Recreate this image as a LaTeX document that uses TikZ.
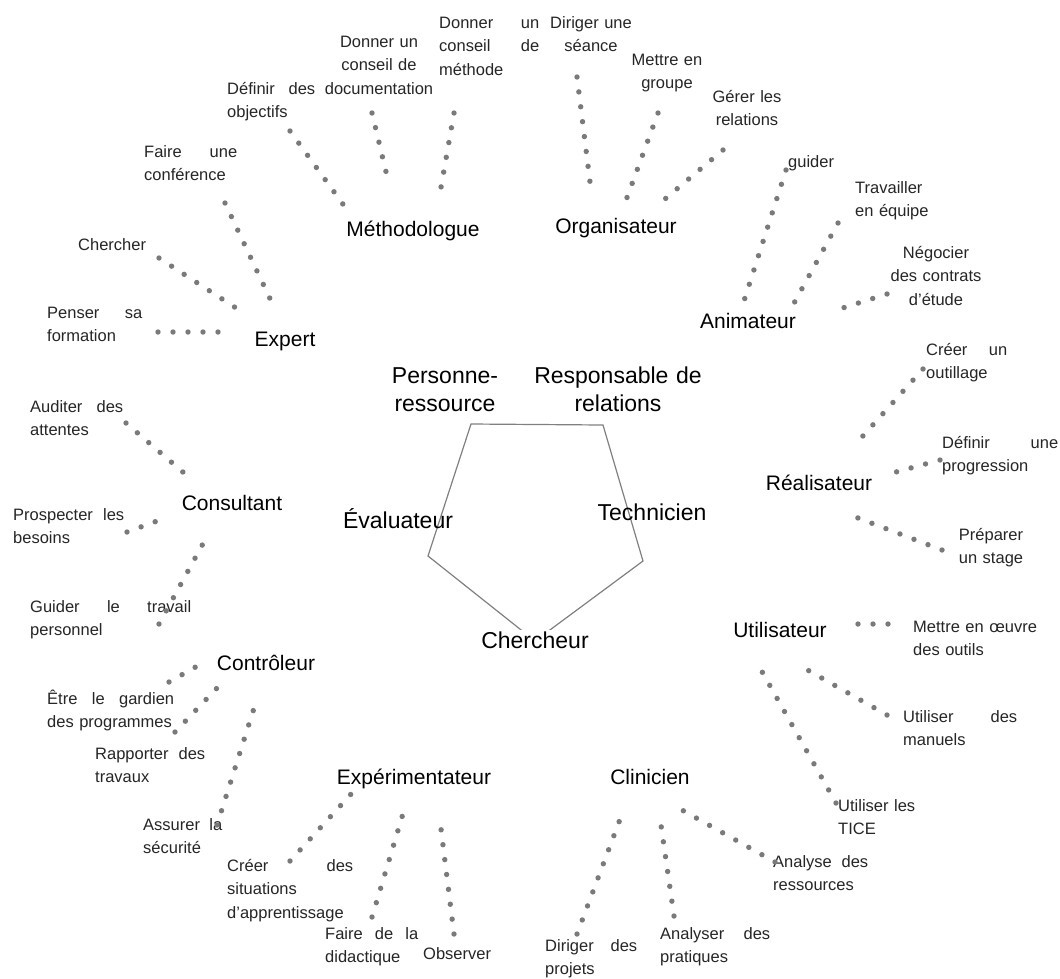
\documentclass[tikz,border=0pt]{standalone}
\usepackage{fontspec}
\setmainfont{Liberation Sans}
\usetikzlibrary{calc}
\begin{document}
\begin{tikzpicture}[x=1pt,y=-1pt,
    leaf/.style={inner sep=0pt,font=\fontsize{16.5}{23.5}\selectfont,text=black!85,anchor=base west,align=left},
    leafc/.style={leaf,anchor=base,align=center},
    role/.style={inner sep=0pt,font=\fontsize{21}{25}\selectfont,anchor=base},
    centre/.style={inner sep=1pt,font=\fontsize{23}{28}\selectfont,anchor=base,align=center},
    dotline/.style={draw=black!52,line width=5.4pt,line cap=round,dash pattern=on 0pt off 15pt}]
  \useasboundingbox[fill=white] (0,0) rectangle (1060,978);

  % pentagone central
  \draw[black!50,line width=1.2pt] (471,424) -- (603,425) -- (643,561) -- (535,641) -- (428,556) -- cycle;
  \node[centre,text width=130pt] (persres) at (445,383) {Personne-\\ressource};
  \node[centre,text width=180pt] (resprel) at (618,383) {Responsable de\\relations};
  \node[centre] (evalu) at (398,528) {Évaluateur};
  \node[centre] (techn) at (652,520) {Technicien};
  \node[centre,fill=white] (cherch) at (535,648) {Chercheur};

  % roles
  \node[role] (methodo) at (413,236) {Méthodologue};
  \node[role] (organis) at (616,233) {Organisateur};
  \node[role] (animat) at (748,328) {Animateur};
  \node[role] (expert) at (285,346) {Expert};
  \node[role] (consult) at (232,510) {Consultant};
  \node[role] (control) at (266,670) {Contrôleur};
  \node[role] (experim) at (414,784) {Expérimentateur};
  \node[role] (clinic) at (650,784) {Clinicien};
  \node[role] (utilis) at (780,637) {Utilisateur};
  \node[role] (realis) at (819,490) {Réalisateur};

  % taches
  \node[leaf,text width=88pt] (defobj) at (227,94) {Définir\hfill des\\objectifs};
  \node[leafc,text width=120pt] (docu) at (379,47) {Donner un\\conseil de\\documentation};
  \node[leaf,text width=100pt] (methode) at (439,28) {Donner\hfill un\\conseil\hfill de\\méthode};
  \node[leafc,text width=100pt] (dirseance) at (591,28) {Diriger une\\séance};
  \node[leafc,text width=90pt] (metgroupe) at (667,65) {Mettre en\\groupe};
  \node[leafc,text width=90pt] (gerrel) at (747,102) {Gérer les\\relations};
  \node[leaf] (guider) at (788,167) {guider};
  \node[leaf,text width=80pt] (travequipe) at (855,193) {Travailler\\en équipe};
  \node[leafc,text width=110pt] (negocier) at (936,258) {Négocier\\des contrats\\d'étude};
  \node[leaf,text width=93pt] (faireconf) at (144,157) {Faire\hfill une\\conférence};
  \node[leaf] (chercher) at (78,250) {Chercher};
  \node[leaf,text width=95pt] (pensersa) at (47,318) {Penser\hfill sa\\formation};
  \node[leaf,text width=93pt] (auditer) at (30,412) {Auditer\hfill des\\attentes};
  \node[leaf,text width=111pt] (prospecter) at (13,520) {Prospecter\hfill les\\besoins};
  \node[leaf,text width=161pt] (guidertrav) at (30,612) {Guider\hfill le\hfill travail\\personnel};
  \node[leaf,text width=127pt] (gardien) at (47,704) {Être\hfill le\hfill gardien\\des programmes};
  \node[leaf,text width=110pt] (rapporter) at (95,759) {Rapporter\hfill des\\travaux};
  \node[leaf,text width=79pt] (assurer) at (143,830) {Assurer\hfill la\\sécurité};
  \node[leaf,text width=126pt] (creersit) at (227,871) {Créer\hfill des\\situations\\d'apprentissage};
  \node[leaf,text width=93pt] (didactique) at (325,939) {Faire\hfill de\hfill la\\didactique};
  \node[leaf] (observer) at (423,959) {Observer};
  \node[leaf,text width=92pt] (dirprojets) at (545,951) {Diriger\hfill des\\projets};
  \node[leaf,text width=110pt] (analpratiques) at (660,939) {Analyser\hfill des\\pratiques};
  \node[leaf,text width=95pt] (analress) at (773,867) {Analyse\hfill des\\ressources};
  \node[leaf,text width=90pt] (tice) at (838,811) {Utiliser les\\TICE};
  \node[leaf,text width=114pt] (manuels) at (903,722) {Utiliser\hfill des\\manuels};
  \node[leaf,text width=130pt] (oeuvre) at (913,632) {Mettre en œuvre\\des outils};
  \node[leafc,text width=90pt] (preparer) at (991,540) {Préparer\\un stage};
  \node[leaf,text width=116pt] (progression) at (942,448) {Définir\hfill une\\progression};
  \node[leaf,text width=81pt] (outillage) at (926,355) {Créer\hfill un\\outillage};

  % liens en pointilles
  \draw[dotline] ($(defobj.base west)+(63,37)$) -- ($(methodo.base)+(-68,-29)$);
  \draw[dotline] ($(docu.base)+(-7,66)$) -- ($(methodo.base)+(-26,-60)$);
  \draw[dotline] ($(methode.base west)+(15,85)$) -- ($(methodo.base)+(27,-43)$);
  \draw[dotline] ($(dirseance.base)+(-14,49)$) -- ($(organis.base)+(-25,-43)$);
  \draw[dotline] ($(metgroupe.base)+(-9,48)$) -- ($(organis.base)+(9,-30)$);
  \draw[dotline] ($(gerrel.base)+(-24,48)$) -- ($(organis.base)+(49,-34)$);
  \draw[dotline] ($(guider.base west)+(-2,3)$) -- ($(animat.base)+(-5,-24)$);
  \draw[dotline] ($(travequipe.base west)+(-17,30)$) -- ($(animat.base)+(45,-23)$);
  \draw[dotline] ($(negocier.base)+(-49,36)$) -- ($(animat.base)+(82,-16)$);
  \draw[dotline] ($(faireconf.base west)+(81,46)$) -- ($(expert.base)+(-12,-41)$);
  \draw[dotline] ($(chercher.base west)+(81,8)$) -- ($(expert.base)+(-49,-38)$);
  \draw[dotline] ($(pensersa.base west)+(111,14)$) -- ($(expert.base)+(-66,-14)$);
  \draw[dotline] ($(auditer.base west)+(96,11)$) -- ($(consult.base)+(-48,-37)$);
  \draw[dotline] ($(prospecter.base west)+(114,12)$) -- ($(consult.base)+(-64,7)$);
  \draw[dotline] ($(guidertrav.base west)+(129,12)$) -- ($(consult.base)+(-27,30)$);
  \draw[dotline] ($(gardien.base west)+(122,-22)$) -- ($(control.base)+(-58,-10)$);
  \draw[dotline] ($(rapporter.base west)+(80,-27)$) -- ($(control.base)+(-48,17)$);
  \draw[dotline] ($(assurer.base west)+(74,-5)$) -- ($(control.base)+(-11,35)$);
  \draw[dotline] ($(creersit.base west)+(63,-10)$) -- ($(experim.base)+(-62,9)$);
  \draw[dotline] ($(didactique.base west)+(47,-22)$) -- ($(experim.base)+(-9,23)$);
  \draw[dotline] ($(observer.base west)+(31,-25)$) -- ($(experim.base)+(26,37)$);
  \draw[dotline] ($(dirprojets.base west)+(32,-17)$) -- ($(clinic.base)+(-28,30)$);
  \draw[dotline] ($(analpratiques.base west)+(14,-23)$) -- ($(clinic.base)+(10,34)$);
  \draw[dotline] ($(analress.base west)+(2,-5)$) -- ($(clinic.base)+(32,26)$);
  \draw[dotline] ($(tice.base west)+(-2,-8)$) -- ($(utilis.base)+(-20,31)$);
  \draw[dotline] ($(manuels.base west)+(-16,-7)$) -- ($(utilis.base)+(17,27)$);
  \draw[dotline] ($(oeuvre.base west)+(-25,-8)$) -- ($(utilis.base)+(68,-13)$);
  \draw[dotline] ($(outillage.base west)+(-3,14)$) -- ($(realis.base)+(34,-43)$);
  \draw[dotline] ($(progression.base west)+(-2,12)$) -- ($(realis.base)+(66,-15)$);
  \draw[dotline] ($(preparer.base)+(-49,10)$) -- ($(realis.base)+(26,23)$);
\end{tikzpicture}
\end{document}
